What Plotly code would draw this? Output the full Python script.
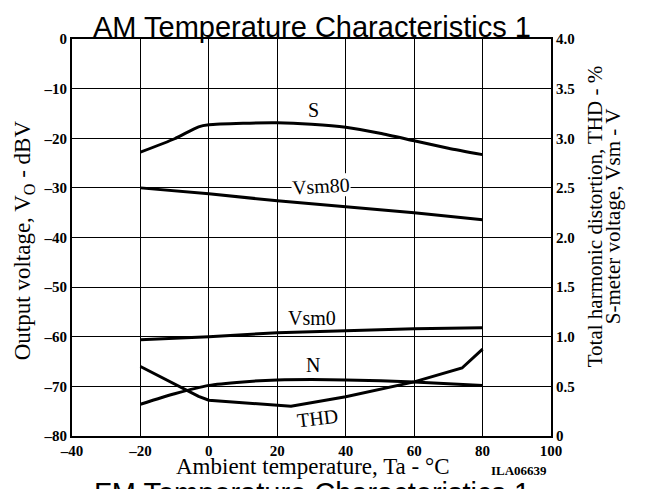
import plotly.graph_objects as go

# Temperatures (deg C)
s_temp = [-20, -10, -3, 0, 10, 20, 30, 40, 50, 60, 70, 80]
s_db = [-22.8, -20.1, -17.7, -17.3, -17.0, -16.9, -17.2, -17.8, -19.0, -20.5, -22.0, -23.3]

vsm80_temp = [-20, 0, 20, 40, 60, 80]
vsm80_v = [2.50, 2.44, 2.37, 2.31, 2.25, 2.18]

vsm0_temp = [-20, 0, 20, 40, 60, 80]
vsm0_v = [0.97, 1.00, 1.04, 1.06, 1.08, 1.09]

n_temp = [-20, -10, 0, 10, 20, 30, 40, 60, 80]
n_db = [-73.6, -71.5, -69.8, -69.1, -68.7, -68.6, -68.7, -69.1, -69.8]

thd_temp = [-20, -10, -3, 0, 24, 40, 60, 74, 80]
thd_pct = [0.70, 0.52, 0.40, 0.36, 0.30, 0.395, 0.545, 0.685, 0.875]

x_ticks = [-40, -20, 0, 20, 40, 60, 80, 100]
x_ticktext = ["\u201340", "\u201320", "0", "20", "40", "60", "80", "100"]
y_ticks = [0, -10, -20, -30, -40, -50, -60, -70, -80]
y_ticktext = ["0", "\u201310", "\u201320", "\u201330", "\u201340", "\u201350", "\u201360", "\u201370", "\u201380"]
y2_ticks = [0, 0.5, 1.0, 1.5, 2.0, 2.5, 3.0, 3.5, 4.0]
y2_ticktext = ["0", "0.5", "1.0", "1.5", "2.0", "2.5", "3.0", "3.5", "4.0"]

SERIF = "Liberation Serif, Times New Roman, serif"
SANS = "Liberation Sans, Arial, sans-serif"
TICKF = dict(family=SERIF, size=15, color="black", weight="bold")
LINE = dict(color="black", width=3)

W, H = 647, 489
ML, MR, MT, MB = 72, 96, 38.5, 53

fig = go.Figure()
fig.add_trace(go.Scatter(x=s_temp, y=s_db, mode="lines", line=dict(**LINE, shape="spline", smoothing=0.6), yaxis="y"))
fig.add_trace(go.Scatter(x=n_temp, y=n_db, mode="lines", line=dict(**LINE, shape="spline", smoothing=0.6), yaxis="y"))
fig.add_trace(go.Scatter(x=vsm80_temp, y=vsm80_v, mode="lines", line=LINE, yaxis="y2"))
fig.add_trace(go.Scatter(x=vsm0_temp, y=vsm0_v, mode="lines", line=dict(**LINE, shape="spline", smoothing=0.5), yaxis="y2"))
fig.add_trace(go.Scatter(x=thd_temp, y=thd_pct, mode="lines", line=LINE, yaxis="y2"))

fig.update_layout(
    width=W, height=H,
    margin=dict(l=ML, r=MR, t=MT, b=MB, autoexpand=False),
    paper_bgcolor="white", plot_bgcolor="white",
    showlegend=False,
    xaxis=dict(range=[-40, 100], tickvals=x_ticks, ticktext=x_ticktext, tickfont=TICKF,
               showgrid=True, gridcolor="black", gridwidth=1, zeroline=False,
               showline=True, linecolor="black", linewidth=2, mirror=True, ticks=""),
    yaxis=dict(range=[-80, 0], tickvals=y_ticks, ticktext=y_ticktext, tickfont=TICKF,
               showgrid=True, gridcolor="black", gridwidth=1, zeroline=False,
               showline=True, linecolor="black", linewidth=2, mirror=True, ticks=""),
    yaxis2=dict(range=[0, 4], tickvals=y2_ticks, ticktext=y2_ticktext, tickfont=TICKF,
                overlaying="y", side="right", showgrid=False, zeroline=False,
                showline=True, linecolor="black", linewidth=2, ticks=""),
)


def add_px(text, xp, yp, size, family=SERIF, angle=0, bg=None, pad=0, weight="normal",
           xanchor="center", yanchor="middle"):
    fx = (xp - ML) / (W - ML - MR)
    fy = 1 - (yp - MT) / (H - MT - MB)
    fig.add_annotation(text=text, x=fx, y=fy, xref="paper", yref="paper",
                       showarrow=False, xanchor=xanchor, yanchor=yanchor, textangle=angle,
                       font=dict(family=family, size=size, color="black", weight=weight),
                       bgcolor=bg, borderpad=pad)


add_px("AM Temperature Characteristics 1", 312, 26, 29, family=SANS)
add_px("FM Temperature Characteristics 1", 312, 493, 29, family=SANS)
add_px("Ambient temperature, Ta - \u00b0C", 313, 467, 23)
add_px("ILA06639", 519, 471, 13, weight="bold")
add_px("Output voltage, V<sub>O</sub> - dBV", 24, 240, 23, angle=-90)
add_px("Total harmonic distortion, THD - %", 595, 217, 21, angle=-90)
add_px("S-meter voltage, Vsm - V", 613, 216, 21, angle=-90)

add_px("S", 313, 110, 20)
add_px("Vsm80", 321, 186, 20, angle=-3, bg="white", pad=0)
add_px("Vsm0", 312, 318, 20)
add_px("N", 313, 365, 20)
add_px("THD", 317, 418, 20, angle=-7)

fig.write_html("out.html", post_script="document.body.style.margin='0';",
               config={"displayModeBar": False})
